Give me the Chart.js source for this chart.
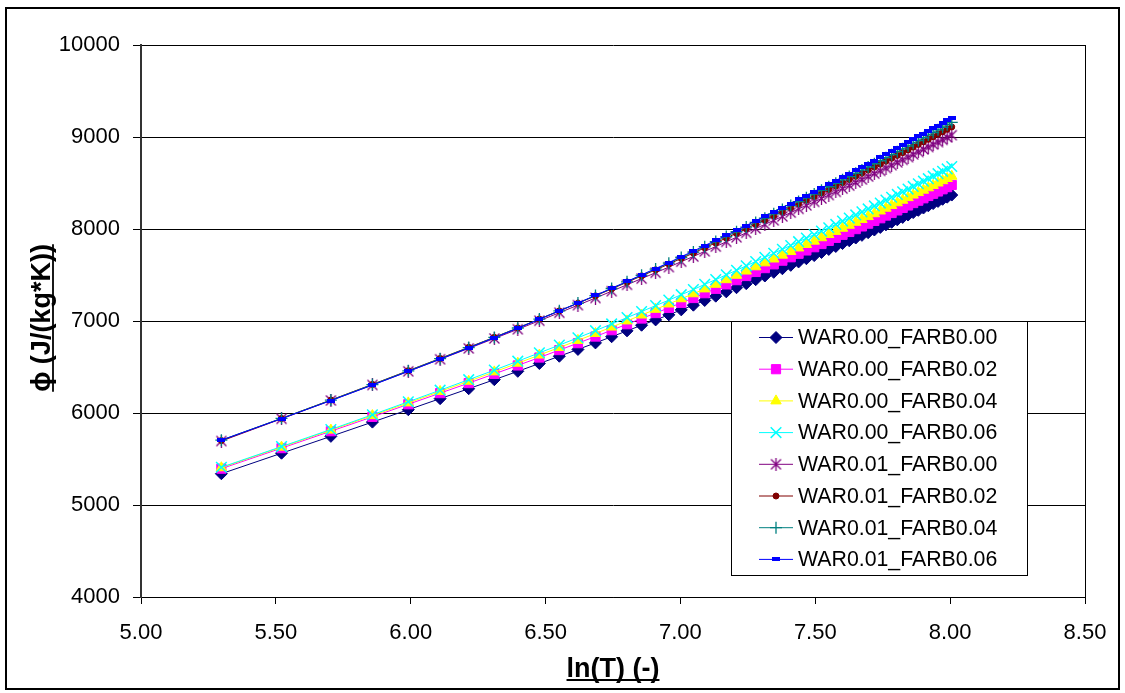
<!DOCTYPE html>
<html>
<head>
<meta charset="utf-8">
<title>phi vs ln(T)</title>
<script src="https://cdn.jsdelivr.net/npm/chart.js@4.4.0/dist/chart.umd.min.js"></script>
<style>
  html, body { margin: 0; padding: 0; background: #fff; }
  #wrap { position: relative; width: 1125px; height: 693px; }
</style>
</head>
<body>
<div id="wrap"><canvas id="phiChart" width="1125" height="693"></canvas></div>
<script>
// x values: ln(T), T = 200 ... 3000 K
const lnT = [5.298, 5.521, 5.704, 5.858, 5.991, 6.109, 6.215, 6.310, 6.397, 6.477,
  6.551, 6.620, 6.685, 6.745, 6.802, 6.856, 6.908, 6.957, 7.003, 7.048,
  7.090, 7.131, 7.170, 7.208, 7.244, 7.279, 7.313, 7.346, 7.378, 7.409,
  7.438, 7.467, 7.496, 7.523, 7.550, 7.576, 7.601, 7.626, 7.650, 7.673,
  7.696, 7.719, 7.741, 7.762, 7.783, 7.804, 7.824, 7.844, 7.863, 7.882,
  7.901, 7.919, 7.937, 7.955, 7.972, 7.989, 8.006];

const war000_farb000 = [5340, 5563, 5746, 5901, 6036, 6156, 6264, 6362, 6453, 6538,
  6617, 6691, 6762, 6829, 6893, 6954, 7012, 7067, 7121, 7172,
  7223, 7270, 7317, 7362, 7406, 7449, 7489, 7529, 7568, 7605,
  7642, 7677, 7711, 7745, 7778, 7810, 7842, 7872, 7902, 7931,
  7960, 7989, 8017, 8045, 8073, 8100, 8126, 8152, 8178, 8203,
  8228, 8252, 8276, 8300, 8323, 8346, 8369];
const war000_farb002 = [5395, 5618, 5802, 5958, 6095, 6216, 6325, 6425, 6517, 6603,
  6684, 6759, 6831, 6900, 6965, 7027, 7086, 7143, 7198, 7250,
  7302, 7350, 7398, 7444, 7489, 7533, 7575, 7616, 7656, 7693,
  7731, 7767, 7802, 7837, 7871, 7904, 7937, 7968, 7999, 8028,
  8058, 8088, 8117, 8146, 8174, 8202, 8229, 8256, 8282, 8308,
  8334, 8359, 8383, 8408, 8432, 8455, 8479];
const war000_farb004 = [5405, 5629, 5814, 5972, 6110, 6234, 6345, 6447, 6541, 6630,
  6712, 6789, 6864, 6934, 7001, 7065, 7127, 7185, 7242, 7296,
  7349, 7399, 7449, 7497, 7543, 7589, 7632, 7674, 7716, 7755,
  7794, 7832, 7868, 7905, 7940, 7974, 8008, 8041, 8073, 8104,
  8135, 8166, 8196, 8226, 8256, 8285, 8313, 8341, 8369, 8396,
  8422, 8448, 8474, 8500, 8525, 8549, 8574];
const war000_farb006 = [5410, 5635, 5821, 5981, 6122, 6248, 6362, 6466, 6563, 6654,
  6738, 6818, 6895, 6968, 7037, 7103, 7167, 7227, 7286, 7342,
  7398, 7450, 7502, 7551, 7600, 7647, 7692, 7736, 7780, 7821,
  7862, 7901, 7939, 7977, 8014, 8050, 8086, 8119, 8153, 8186,
  8218, 8251, 8282, 8314, 8345, 8376, 8405, 8434, 8463, 8492,
  8520, 8547, 8574, 8601, 8627, 8653, 8679];
const war001_farb000 = [5695, 5937, 6136, 6305, 6453, 6584, 6702, 6810, 6910, 7003,
  7090, 7172, 7250, 7324, 7394, 7461, 7525, 7586, 7645, 7701,
  7757, 7809, 7861, 7910, 7959, 8006, 8050, 8094, 8137, 8178,
  8219, 8257, 8295, 8332, 8369, 8404, 8439, 8472, 8506, 8538,
  8570, 8602, 8632, 8663, 8694, 8724, 8752, 8781, 8810, 8837,
  8865, 8891, 8918, 8944, 8969, 8995, 9020];
const war001_farb002 = [5700, 5941, 6141, 6311, 6460, 6593, 6714, 6823, 6925, 7021,
  7110, 7193, 7273, 7349, 7421, 7490, 7556, 7619, 7680, 7738,
  7796, 7849, 7903, 7954, 8004, 8053, 8099, 8145, 8189, 8232,
  8274, 8314, 8353, 8392, 8430, 8467, 8504, 8538, 8573, 8606,
  8640, 8673, 8705, 8737, 8769, 8800, 8830, 8860, 8890, 8919,
  8948, 8975, 9003, 9031, 9057, 9084, 9110];
const war001_farb004 = [5705, 5942, 6140, 6309, 6458, 6591, 6711, 6822, 6924, 7021,
  7111, 7195, 7276, 7353, 7426, 7497, 7564, 7628, 7690, 7749,
  7808, 7863, 7918, 7970, 8021, 8071, 8118, 8165, 8211, 8255,
  8298, 8339, 8380, 8420, 8459, 8497, 8534, 8570, 8606, 8640,
  8674, 8709, 8742, 8775, 8808, 8840, 8871, 8902, 8933, 8962,
  8992, 9021, 9049, 9078, 9105, 9133, 9160];
const war001_farb006 = [5705, 5939, 6135, 6303, 6452, 6585, 6707, 6818, 6921, 7019,
  7110, 7195, 7278, 7356, 7430, 7502, 7570, 7635, 7699, 7759,
  7820, 7876, 7932, 7985, 8038, 8089, 8137, 8185, 8232, 8277,
  8321, 8364, 8405, 8446, 8487, 8526, 8564, 8601, 8638, 8673,
  8709, 8744, 8778, 8813, 8847, 8880, 8912, 8944, 8975, 9006,
  9037, 9066, 9096, 9125, 9153, 9182, 9210];

const seriesNames = ['WAR0.00_FARB0.00', 'WAR0.00_FARB0.02', 'WAR0.00_FARB0.04', 'WAR0.00_FARB0.06',
  'WAR0.01_FARB0.00', 'WAR0.01_FARB0.02', 'WAR0.01_FARB0.04', 'WAR0.01_FARB0.06'];
const seriesValues = [war000_farb000, war000_farb002, war000_farb004, war000_farb006,
  war001_farb000, war001_farb002, war001_farb004, war001_farb006];

const yTicks = [4000, 5000, 6000, 7000, 8000, 9000, 10000];
const xTicks = [5.00, 5.50, 6.00, 6.50, 7.00, 7.50, 8.00, 8.50];

// small marker images (Excel asterisk and short dash)
function makeStar(color) {
  const c = document.createElement('canvas');
  c.width = 13; c.height = 13;
  const g = c.getContext('2d');
  g.strokeStyle = color;
  g.lineWidth = 1.3;
  g.beginPath();
  g.moveTo(1.5, 1.5); g.lineTo(11.5, 11.5);
  g.moveTo(11.5, 1.5); g.lineTo(1.5, 11.5);
  g.moveTo(6.5, 0); g.lineTo(6.5, 13);
  g.stroke();
  return c;
}
function makeDash(color) {
  const c = document.createElement('canvas');
  c.width = 8; c.height = 4;
  const g = c.getContext('2d');
  g.fillStyle = color;
  g.fillRect(0, 0, 8, 4);
  return c;
}

const styles = [
  { color: '#000080', fill: '#000080', pointStyle: 'rectRot', radius: 6, bw: 1 },
  { color: '#FF00FF', fill: '#FF00FF', pointStyle: 'rect', radius: 6.5, bw: 1 },
  { color: '#FFFF00', fill: '#FFFF00', pointStyle: 'triangle', radius: 6, bw: 1 },
  { color: '#00FFFF', fill: '#00FFFF', pointStyle: 'crossRot', radius: 7.5, bw: 1.5 },
  { color: '#800080', fill: '#800080', pointStyle: makeStar('#800080'), radius: 6, bw: 1 },
  { color: '#800000', fill: '#800000', pointStyle: 'circle', radius: 3, bw: 1 },
  { color: '#008080', fill: '#008080', pointStyle: 'cross', radius: 6, bw: 1.3 },
  { color: '#0000FF', fill: '#0000FF', pointStyle: makeDash('#0000FF'), radius: 4, bw: 1 }
];

const datasets = seriesNames.map(function (name, i) {
  const s = styles[i];
  return {
    label: name,
    data: lnT.map(function (x, j) { return { x: x, y: seriesValues[i][j] }; }),
    showLine: true,
    borderColor: s.color,
    backgroundColor: s.fill,
    borderWidth: 1,
    pointStyle: s.pointStyle,
    pointRadius: s.radius,
    pointBorderWidth: s.bw,
    pointBorderColor: s.color,
    pointBackgroundColor: s.fill,
    tension: 0,
    order: 8 - i
  };
});

const FONT = '"Liberation Sans", Arial, sans-serif';

const framePlugin = {
  id: 'frame',
  beforeDraw(chart) {
    const ctx = chart.ctx;
    ctx.save();
    ctx.fillStyle = '#fff';
    ctx.fillRect(0, 0, chart.width, chart.height);
    ctx.restore();
  },
  afterDraw(chart) {
    const ctx = chart.ctx;
    const a = chart.chartArea;
    ctx.save();
    // plot area right edge
    ctx.strokeStyle = '#000';
    ctx.lineWidth = 1;
    ctx.beginPath();
    ctx.moveTo(Math.round(a.right) + 0.5, a.top);
    ctx.lineTo(Math.round(a.right) + 0.5, a.bottom);
    ctx.stroke();

    // legend
    const lx = 731, ly = 321, lw = 296, lh = 254;
    ctx.fillStyle = '#fff';
    ctx.fillRect(lx, ly, lw, lh);
    ctx.strokeStyle = '#000';
    ctx.lineWidth = 1;
    ctx.strokeRect(lx + 0.5, ly + 0.5, lw, lh);
    ctx.font = '21.3px ' + FONT;
    ctx.textBaseline = 'middle';
    ctx.textAlign = 'left';
    chart.data.datasets.forEach(function (ds, i) {
      const y = 337.5 + i * 31.7;
      ctx.strokeStyle = ds.borderColor;
      ctx.lineWidth = 1;
      ctx.beginPath();
      ctx.moveTo(759, y);
      ctx.lineTo(793, y);
      ctx.stroke();
      ctx.fillStyle = ds.pointBackgroundColor;
      ctx.strokeStyle = ds.pointBorderColor;
      ctx.lineWidth = ds.pointBorderWidth;
      Chart.helpers.drawPoint(ctx, {
        pointStyle: ds.pointStyle, radius: ds.pointRadius,
        borderWidth: ds.pointBorderWidth, rotation: 0
      }, 776, y);
      ctx.fillStyle = '#000';
      ctx.fillText(ds.label, 798, y + 1);
    });

    // axis titles (bold, underlined)
    ctx.fillStyle = '#000';
    ctx.strokeStyle = '#000';
    ctx.font = 'bold 27px ' + FONT;
    ctx.textAlign = 'center';
    ctx.textBaseline = 'alphabetic';
    const xt = 'ln(T) (-)';
    const xcx = (a.left + a.right) / 2, xby = 677;
    ctx.fillText(xt, xcx, xby);
    let w = ctx.measureText(xt).width;
    ctx.lineWidth = 1.8;
    ctx.beginPath();
    ctx.moveTo(xcx - w / 2, xby + 3);
    ctx.lineTo(xcx + w / 2, xby + 3);
    ctx.stroke();

    const yt = '\u03D5 (J/(kg*K))';
    ctx.translate(50, 318);
    ctx.rotate(-Math.PI / 2);
    ctx.fillText(yt, 0, 0);
    w = ctx.measureText(yt).width;
    ctx.beginPath();
    ctx.moveTo(-w / 2, 3);
    ctx.lineTo(w / 2, 3);
    ctx.stroke();
    ctx.restore();

    // outer frame
    ctx.save();
    ctx.strokeStyle = '#000';
    ctx.lineWidth = 2;
    ctx.strokeRect(6, 8, 1113, 681);
    ctx.restore();
  }
};

document.addEventListener('DOMContentLoaded', function () {
  const ctx = document.getElementById('phiChart').getContext('2d');

  const phiChart = new Chart(ctx, {
    type: 'scatter',
    data: { datasets: datasets },
    options: {
      responsive: false,
      animation: false,
      devicePixelRatio: 1,
      layout: { padding: { top: 45, right: 40, left: 0, bottom: 0 } },
      plugins: {
        legend: { display: false },
        tooltip: { enabled: false }
      },
      scales: {
        x: {
          type: 'linear',
          min: 5,
          max: 8.5,
          afterFit: function (s) { s.height = 96; },
          afterBuildTicks: function (s) { s.ticks = xTicks.map(function (v) { return { value: v }; }); },
          ticks: {
            color: '#000',
            font: { family: FONT, size: 22 },
            padding: 16,
            maxRotation: 0,
            callback: function (v) { return Number(v).toFixed(2); }
          },
          grid: { drawOnChartArea: false, drawTicks: true, tickLength: 7, color: '#000' },
          border: { display: true, color: '#000', width: 1 }
        },
        y: {
          type: 'linear',
          min: 4000,
          max: 10000,
          afterFit: function (s) { s.width = 141; },
          afterBuildTicks: function (s) { s.ticks = yTicks.map(function (v) { return { value: v }; }); },
          ticks: {
            color: '#000',
            font: { family: FONT, size: 22 },
            padding: 13,
            callback: function (v) { return String(v); }
          },
          grid: { color: '#000', lineWidth: 1, drawTicks: true, tickLength: 8 },
          border: { display: true, color: '#333', width: 2 }
        }
      }
    },
    plugins: [framePlugin]
  });
});
</script>
</body>
</html>
